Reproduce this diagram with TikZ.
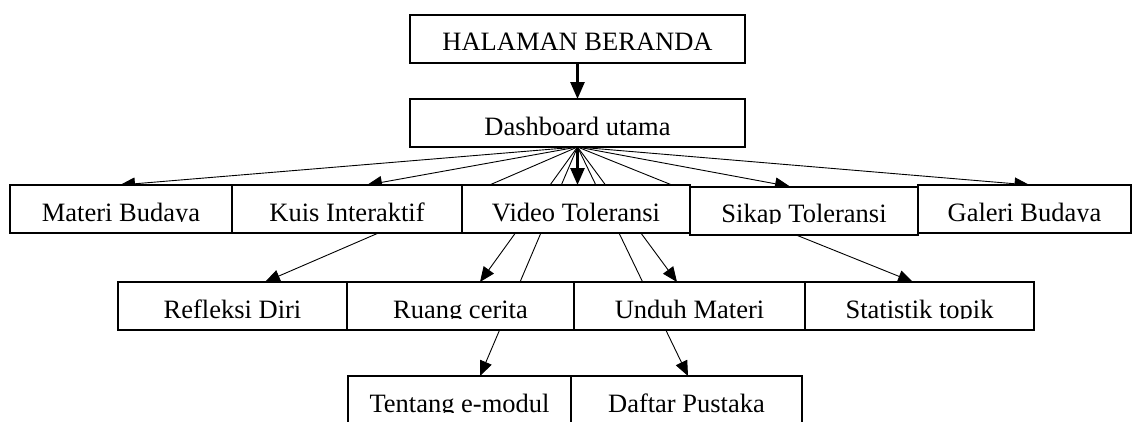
\documentclass[tikz,border=0pt]{standalone}
\usepackage{fontspec}
\setmainfont{Liberation Serif}
\usetikzlibrary{arrows.meta,backgrounds}

\begin{document}
\begin{tikzpicture}[x=1pt,y=-1pt,
        menubox/.style={draw,line width=2pt,fill=white,rectangle,minimum height=48pt,
            inner sep=0pt,outer sep=0pt,text height=24pt,text depth=0pt,
            font=\fontsize{26.5}{30}\selectfont},
        link/.style={line width=0.9pt,-{Triangle[length=15pt,width=12.5pt]}},
        mainlink/.style={line width=2.6pt,-{Triangle[length=17pt,width=14pt]}}]
        \useasboundingbox (0,0) rectangle (1134,421);
        \clip (0,0) rectangle (1134,421);

        \node[menubox,minimum width=335pt] (beranda)   at (577.5,38.5) {HALAMAN BERANDA};
        \node[menubox,minimum width=335pt] (dashboard) at (577.5,123)  {Dashboard utama};

        \node[menubox,minimum width=222pt] (materi) at (121,209)    {Materi Budaya};
        \node[menubox,minimum width=230pt] (kuis)   at (347,209)    {Kuis Interaktif};
        \node[menubox,minimum width=228pt] (video)  at (576,209)    {Video Toleransi};
        \node[menubox,minimum width=228pt] (sikap)  at (804,210.5)  {Sikap Toleransi};
        \node[menubox,minimum width=213pt] (galeri) at (1024.5,209) {Galeri Budaya};

        \node[menubox,minimum width=229pt] (refleksi)  at (232.5,306) {Refleksi Diri};
        \node[menubox,minimum width=227pt] (ruang)     at (460.5,306) {Ruang cerita};
        \node[menubox,minimum width=231pt] (unduh)     at (689.5,306) {Unduh Materi};
        \node[menubox,minimum width=229pt] (statistik) at (919.5,306) {Statistik topik};

        \node[menubox,minimum width=223pt] (tentang) at (459.5,400) {Tentang e-modul};
        \node[menubox,minimum width=231pt] (daftar)  at (686.5,400) {Daftar Pustaka};

        \foreach \b in {materi,kuis,video,sikap,galeri,refleksi,ruang,unduh,statistik,tentang,daftar}
            \fill[white] ([xshift=1.2pt,yshift=-1pt]\b.base west) rectangle ([xshift=-1.2pt,yshift=1.2pt]\b.south east);

        \begin{scope}[on background layer]
            \draw[mainlink] (beranda) -- (dashboard);
            \draw[mainlink] (dashboard.south) -- (dashboard.south |- video.north);
            \draw[link] (dashboard.south) -- ([xshift=-1pt]materi.north);
            \draw[link] (dashboard.south) -- ([xshift=20pt]kuis.north);
            \draw[link] (dashboard.south) -- ([xshift=-14pt]sikap.north);
            \draw[link] (dashboard.south) -- ([xshift=5pt]galeri.north);
            \draw[link] (dashboard.south) -- ([xshift=32.5pt]refleksi.north);
            \draw[link] (dashboard.south) -- ([xshift=19.5pt]ruang.north);
            \draw[link] (dashboard.south) -- ([xshift=-12.5pt]unduh.north);
            \draw[link] (dashboard.south) -- ([xshift=-6.5pt]statistik.north);
            \draw[link] (dashboard.south) -- ([xshift=20.5pt]tentang.north);
            \draw[link] (dashboard.south) -- ([xshift=1.5pt]daftar.north);
        \end{scope}
    \end{tikzpicture}
\end{document}
